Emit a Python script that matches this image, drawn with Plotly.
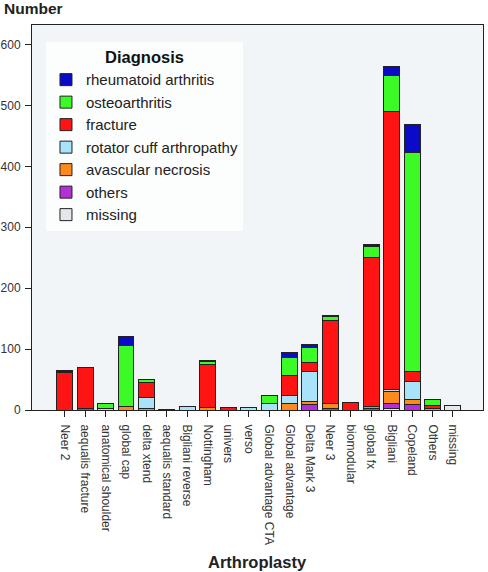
import plotly.graph_objects as go

categories = ["Neer 2", "aequalis fracture", "anatomical shoulder", "global cap", "delta xtend",
              "aequalis standard", "Bigliani reverse", "Nottingham", "univers", "verso",
              "Global advantage CTA", "Global advantage", "Delta Mark 3", "Neer 3", "biomodular",
              "global fx", "Bigliani", "Copeland", "Others", "missing"]

rheumatoid_arthritis = [3, 0, 0, 15, 0, 0, 0, 2, 0, 0, 0, 7, 5, 1, 0, 2, 15, 46, 0, 0]
osteoarthritis = [0, 0, 7, 101, 5, 0, 0, 5, 0, 0, 13, 31, 24, 7, 0, 18, 59, 359, 10, 0]
fracture = [62, 68, 0, 0, 24, 1, 0, 70, 4, 0, 0, 33, 14, 137, 13, 245, 456, 17, 5, 0]
rotator_cuff_arthropathy = [0, 0, 3, 0, 18, 0, 6, 0, 0, 4, 11, 12, 50, 0, 0, 0, 4, 28, 0, 0]
avascular_necrosis = [0, 0, 0, 5, 3, 0, 0, 4, 0, 0, 0, 11, 5, 8, 0, 4, 20, 9, 2, 0]
others = [0, 2, 0, 0, 0, 0, 0, 0, 0, 0, 0, 0, 9, 2, 0, 2, 7, 9, 0, 0]
missing = [0, 0, 0, 0, 0, 0, 0, 0, 0, 0, 0, 0, 0, 0, 0, 0, 3, 0, 0, 7]

y_ticks = [0, 100, 200, 300, 400, 500, 600]

# bottom-to-top stacking order
series = [
    ("missing", missing, "#E3E8EB"),
    ("others", others, "#B52FD6"),
    ("avascular necrosis", avascular_necrosis, "#FF8A1C"),
    ("rotator cuff arthropathy", rotator_cuff_arthropathy, "#A9E3F9"),
    ("fracture", fracture, "#FF1414"),
    ("osteoarthritis", osteoarthritis, "#3CFA26"),
    ("rheumatoid arthritis", rheumatoid_arthritis, "#0A0AC8"),
]

FONT = "Liberation Sans, Arial, sans-serif"

fig = go.Figure()
for name, vals, color in series:
    fig.add_trace(go.Bar(
        x=categories,
        y=[v if v else None for v in vals],
        name=name,
        marker=dict(color=color, line=dict(color="#222222", width=1)),
    ))

fig.update_layout(
    barmode="stack",
    bargap=0.22,
    width=488, height=572,
    margin=dict(l=32, r=5, t=25, b=162, autoexpand=False),
    paper_bgcolor="white",
    plot_bgcolor="#F2F5F7",
    font=dict(family=FONT, size=13, color="#222222"),
    legend=dict(
        traceorder="reversed",
        x=0.031, y=0.956, xanchor="left", yanchor="top",
        bgcolor="#FCFDFD",
        borderwidth=0,
        font=dict(family=FONT, size=15, color="#222222"),
        title=dict(text="<b>Diagnosis</b>", side="top center",
                   font=dict(family=FONT, size=16.5, color="#111111")),
        itemwidth=30,
    ),
    xaxis=dict(
        range=[-1.6, 20.47],
        tickangle=90,
        ticks="outside", ticklen=6, tickcolor="#222222",
        ticklabelstandoff=5,
        showline=True, linecolor="#222222", linewidth=1, mirror=True,
        showgrid=False,
        tickfont=dict(family=FONT, size=12, color="#333333"),
        automargin=False,
    ),
    yaxis=dict(
        range=[0, 632],
        tickvals=y_ticks,
        ticks="outside", ticklen=6, tickcolor="#222222",
        ticklabelstandoff=2,
        showline=True, linecolor="#222222", linewidth=1, mirror=True,
        showgrid=False, zeroline=False,
        tickfont=dict(family=FONT, size=12, color="#333333"),
        automargin=False,
    ),
    annotations=[
        dict(text="<b>Number</b>", xref="paper", yref="paper", x=-0.066, y=1.042,
             xanchor="left", yanchor="middle", showarrow=False,
             font=dict(family=FONT, size=15.5, color="#222222")),
        dict(text="<b>Arthroplasty</b>", xref="paper", yref="paper", x=0.5, y=-0.395,
             xanchor="center", yanchor="middle", showarrow=False,
             font=dict(family=FONT, size=16.5, color="#222222")),
    ],
)

fig.write_html(
    "out.html",
    config={"displayModeBar": False},
    post_script="document.body.style.margin='0';document.body.style.padding='0';"
                "document.documentElement.style.overflow='hidden';",
)
